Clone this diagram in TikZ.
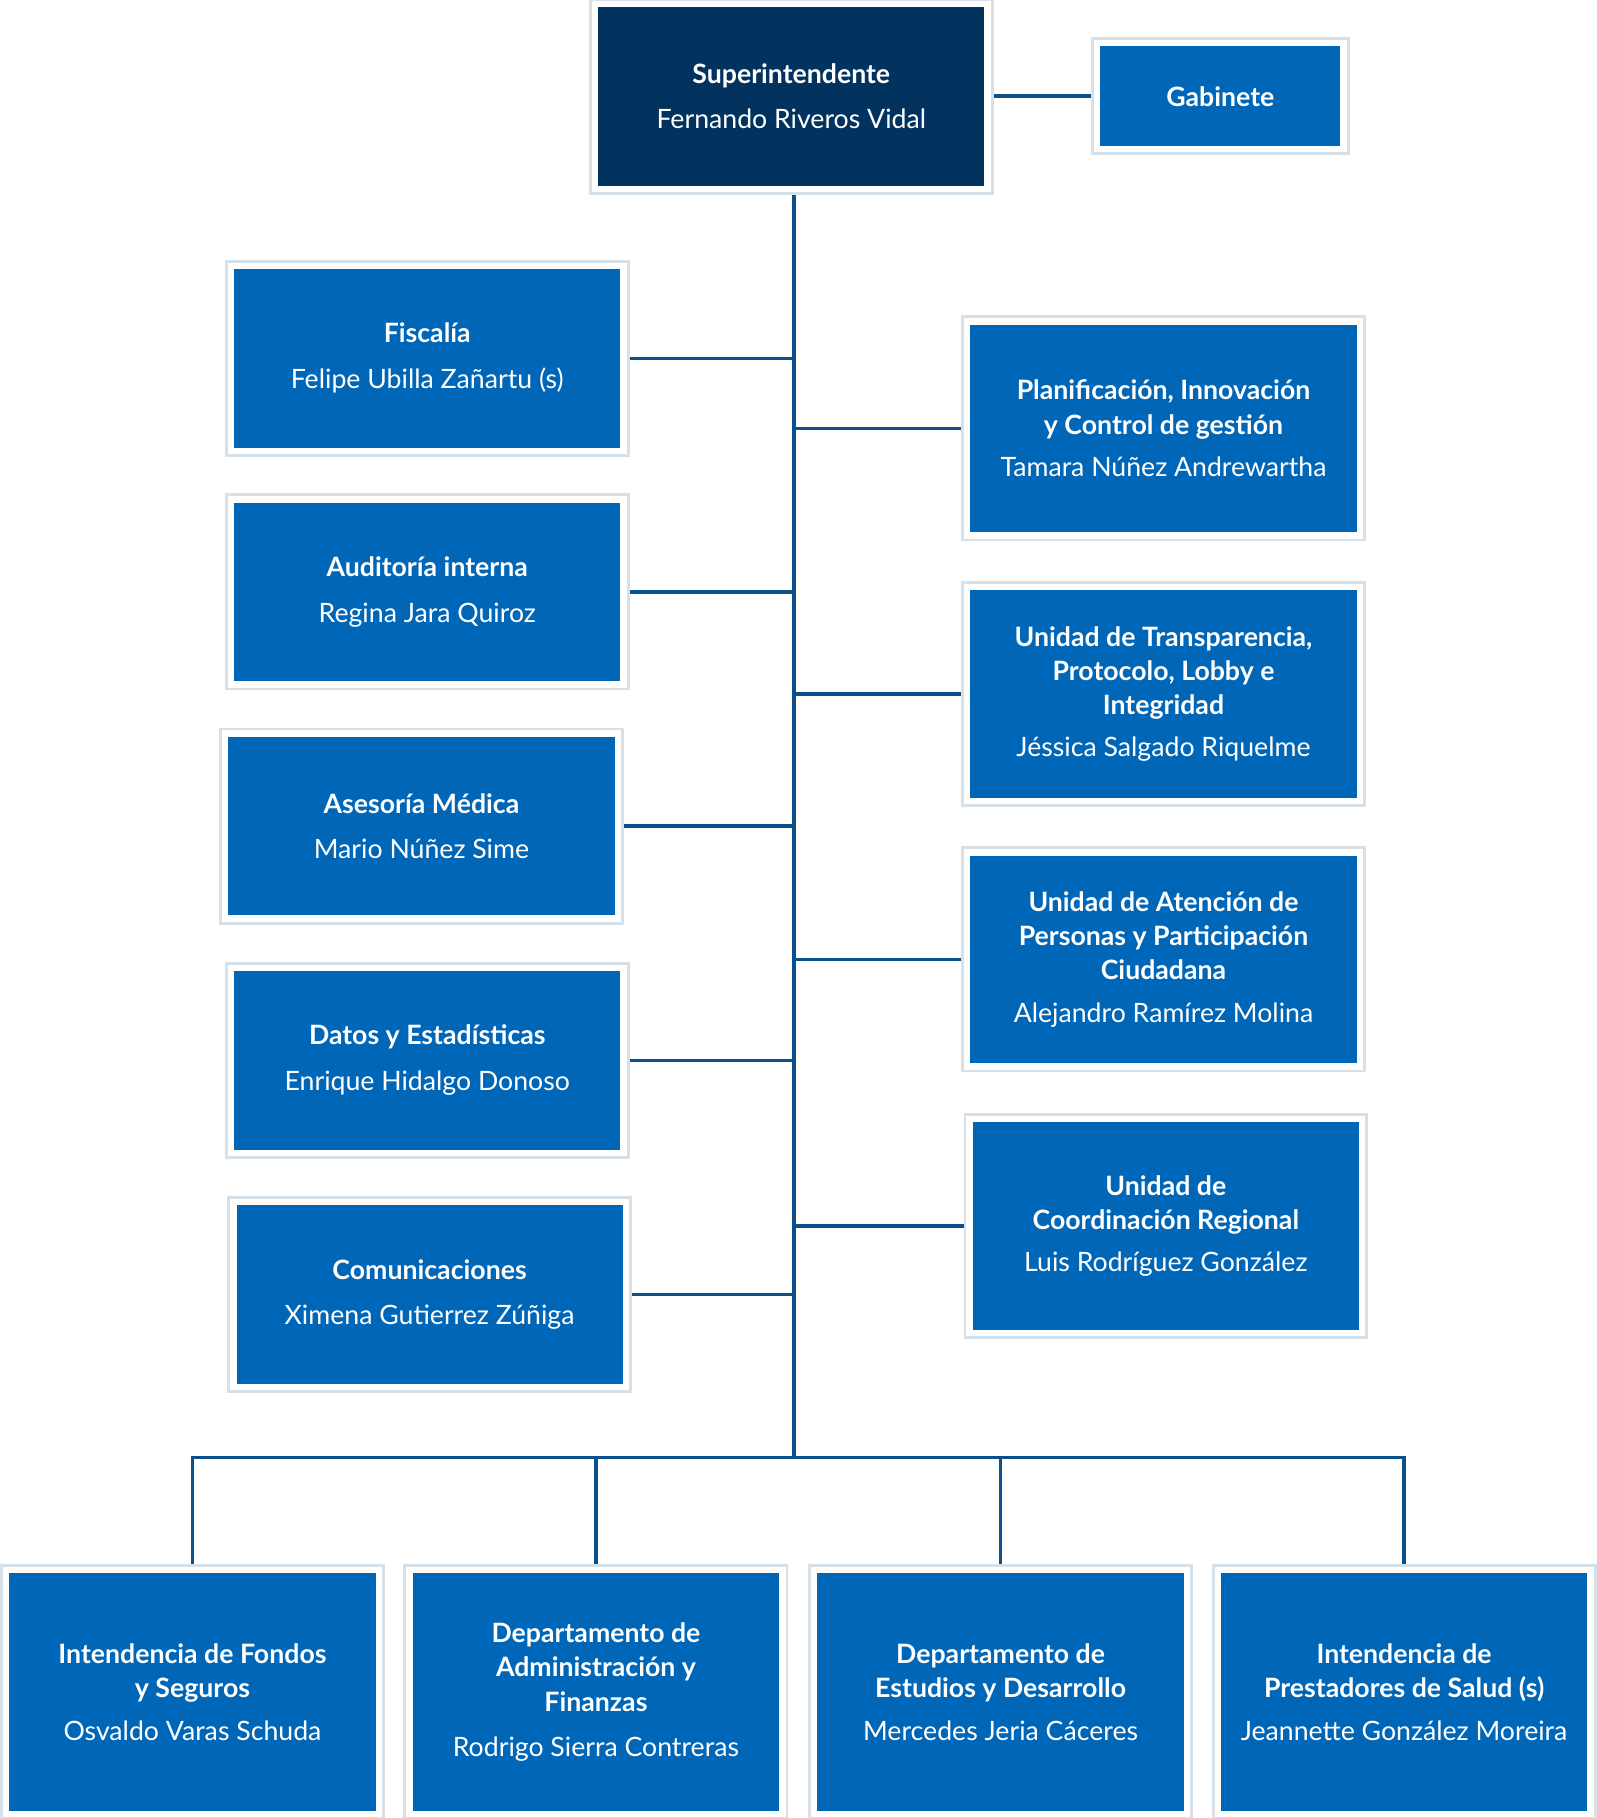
\documentclass[tikz,border=0pt]{standalone}
\usepackage{fontspec}
\setmainfont{Lato}
\definecolor{topblue}{HTML}{02335F}
\definecolor{unitblue}{HTML}{0066B8}
\definecolor{linkblue}{HTML}{0D4F8B}
\definecolor{framegray}{HTML}{D6E0E8}
\begin{document}
\begin{tikzpicture}[
    x=1pt, y=-1pt,
    font=\fontsize{23}{29.5}\selectfont,
    unit/.style={fill=unitblue, text=white, align=center, inner sep=0pt, outer sep=8pt,
        minimum width=333pt, minimum height=154pt,
        preaction={draw=framegray, line width=16pt},
        preaction={draw=white, line width=11pt}},
    tall/.style={unit, minimum height=179pt},
    low/.style={unit, minimum width=316pt, minimum height=205pt},
    link/.style={draw=linkblue, line width=3pt}
    ]
\useasboundingbox (0,0) rectangle (1377,1568);

\node[unit, fill=topblue] (sup) at (682.5,83) {\textbf{Superintendente}\\[10pt]Fernando Riveros Vidal};
\node[unit, minimum width=207pt, minimum height=86pt] (gab) at (1052.5,83) {\textbf{Gabinete}};

\node[unit] (fis) at (368.5,309) {\textbf{Fiscalía}\\[10pt]Felipe Ubilla Zañartu (s)};
\node[unit] (aud) at (368.5,510.5) {\textbf{Auditoría interna}\\[10pt]Regina Jara Quiroz};
\node[unit] (ase) at (363.5,712.5) {\textbf{Asesoría Médica}\\[10pt]Mario Núñez Sime};
\node[unit] (dat) at (368.5,914.5) {\textbf{Datos y Estadísticas}\\[10pt]Enrique Hidalgo Donoso};
\node[unit] (com) at (370.5,1116.5) {\textbf{Comunicaciones}\\[10pt]Ximena Gutierrez Zúñiga};

\node[tall] (pla) at (1003.5,369.5) {\textbf{Planificación, Innovación}\\\textbf{y Control de gestión}\\[7pt]Tamara Núñez Andrewartha};
\node[tall] (tra) at (1003.5,598.5) {\textbf{Unidad de Transparencia,}\\\textbf{Protocolo, Lobby e}\\\textbf{Integridad}\\[7pt]Jéssica Salgado Riquelme};
\node[tall] (ate) at (1003.5,827.5) {\textbf{Unidad de Atención de}\\\textbf{Personas y Participación}\\\textbf{Ciudadana}\\[7pt]Alejandro Ramírez Molina};
\node[tall] (coo) at (1005.5,1057.5) {\textbf{Unidad de}\\\textbf{Coordinación Regional}\\[7pt]Luis Rodríguez González};

\node[low] (ifs) at (166,1459.5) {\textbf{Intendencia de Fondos}\\\textbf{y Seguros}\\[7pt]Osvaldo Varas Schuda};
\node[low] (daf) at (514,1459.5) {\textbf{Departamento de}\\\textbf{Administración y}\\\textbf{Finanzas}\\[10pt]Rodrigo Sierra Contreras};
\node[low] (ded) at (863,1459.5) {\textbf{Departamento de}\\\textbf{Estudios y Desarrollo}\\[7pt]Mercedes Jeria Cáceres};
\node[low] (ips) at (1211,1459.5) {\textbf{Intendencia de}\\\textbf{Prestadores de Salud (s)}\\[7pt]Jeannette González Moreira};

\coordinate (bus) at (685,1257);
\draw[link] (sup.east) -- (gab.west);
\draw[link] (sup.south -| bus) -- (bus);
\foreach \n in {fis,aud,ase,dat,com}
    \draw[link] (\n.east) -- (\n.east -| bus);
\foreach \n in {pla,tra,ate,coo}
    \draw[link] (\n.west) -- (\n.west -| bus);
\draw[link] (ifs.north) |- (bus) -| (ips.north);
\foreach \n in {daf,ded}
    \draw[link] (\n.north) -- (\n.north |- bus);
\end{tikzpicture}
\end{document}
